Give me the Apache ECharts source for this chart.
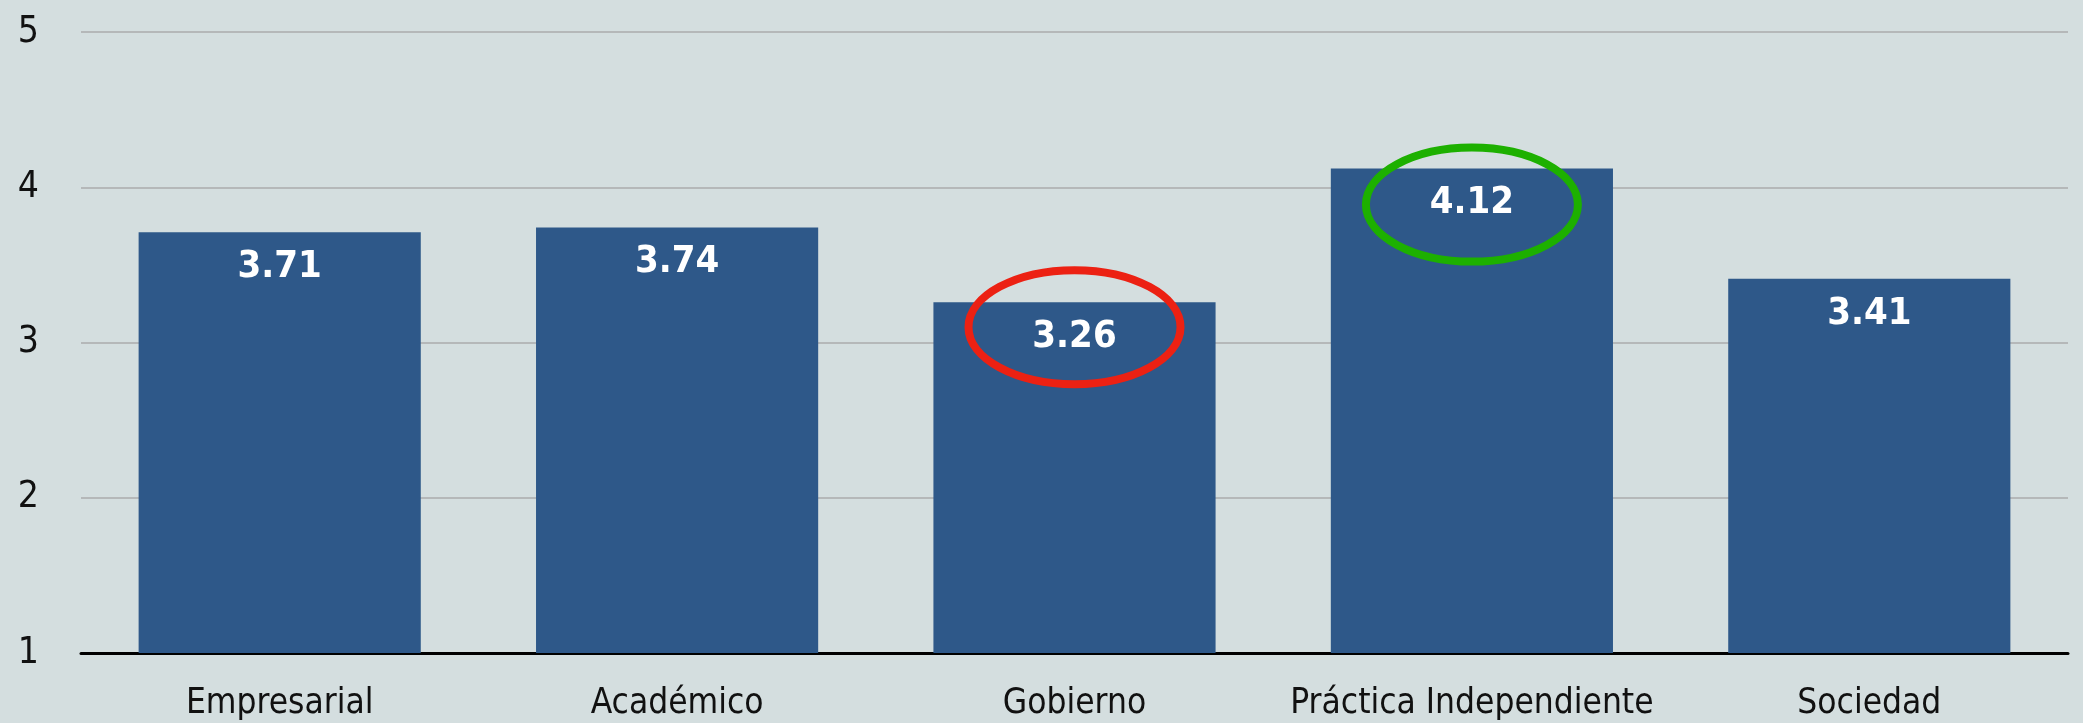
<!DOCTYPE html>
<html><head><meta charset="utf-8">
<script src="https://cdn.jsdelivr.net/npm/echarts@6/dist/echarts.min.js"></script>
<style>html,body{margin:0;padding:0;background:#D4DEDF;}#c{width:2083px;height:723px;}</style>
</head><body><div id="c"></div>
<script>
const categories = ['Empresarial', 'Académico', 'Gobierno', 'Práctica Independiente', 'Sociedad'];
const values = [3.71, 3.74, 3.26, 4.12, 3.41];
const yTicks = [1, 2, 3, 4, 5];
const highlights = [
  { index: 2, color: '#EC2113', dy: 25 },
  { index: 3, color: '#1DB000', dy: 36 }
];
const FONT = '"DejaVu Sans Condensed", "Liberation Sans Narrow", "Roboto", sans-serif';
const chart = echarts.init(document.getElementById('c'));
chart.setOption({
  backgroundColor: '#D4DEDF',
  animation: false,
  grid: { left: 81, right: 15, top: 32, bottom: 70 },
  xAxis: {
    type: 'category', data: categories,
    axisLine: { lineStyle: { color: '#000', width: 3 } },
    axisTick: { show: false },
    axisLabel: { interval: 0, color: '#111', fontSize: 35, fontFamily: FONT, margin: 33 }
  },
  yAxis: {
    type: 'value', min: yTicks[0], max: yTicks[yTicks.length - 1], interval: 1,
    axisLine: { show: false }, axisTick: { show: false },
    axisLabel: { color: '#111', fontSize: 37, fontFamily: FONT, margin: 42 },
    splitLine: { lineStyle: { color: '#B5B8B9', width: 2 } }
  },
  series: [{
    type: 'bar', data: values, barWidth: '71%',
    itemStyle: { color: '#2E5889' },
    label: {
      show: true, position: 'insideTop', distance: 16,
      color: '#fff', fontSize: 38, fontWeight: 'bold', fontFamily: FONT,
      formatter: p => p.value.toFixed(2)
    }
  }]
});
const graphics = highlights.map(h => {
  const top = chart.convertToPixel({ seriesIndex: 0 }, [h.index, values[h.index]]);
  return {
    type: 'ellipse', z: 100,
    shape: { cx: top[0], cy: top[1] + h.dy, rx: 106, ry: 57 },
    style: { fill: 'none', stroke: h.color, lineWidth: 8 }
  };
});
chart.setOption({ graphic: graphics });
</script></body></html>
